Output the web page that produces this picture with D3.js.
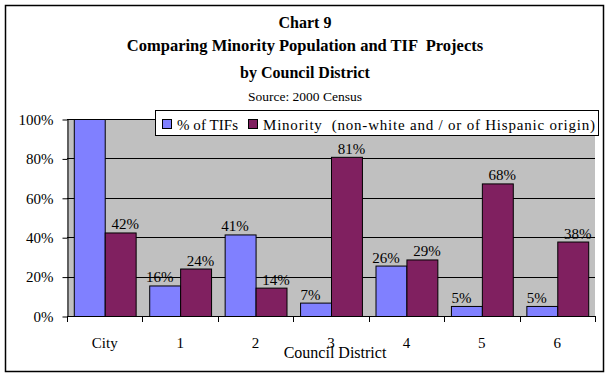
<!DOCTYPE html>
<html>
<head>
<meta charset="utf-8">
<script src="https://cdn.jsdelivr.net/npm/d3@7"></script>
<style>
  body { margin: 0; background: #fff; }
  svg { display: block; font-family: "Liberation Serif", "Times New Roman", serif; }
  svg text { font-family: "Liberation Serif", "Times New Roman", serif; }
</style>
</head>
<body>
<svg id="chart"></svg>
<script>
let categories = ["City", "1", "2", "3", "4", "5", "6"];
let seriesNames = ["% of TIFs", "Minority  (non-white and / or of Hispanic origin)"];
let tifValues = [100, 15.5, 41.4, 6.8, 25.6, 5.1, 5.1];
let minorityValues = [42.4, 24.1, 14.4, 80.8, 28.7, 67.3, 37.8];
let tifLabels = ["", "16%", "41%", "7%", "26%", "5%", "5%"];
let minorityLabels = ["42%", "24%", "14%", "81%", "29%", "68%", "38%"];
let yTicks = [0, 20, 40, 60, 80, 100];
let titleLines = ["Chart 9", "Comparing Minority Population and TIF  Projects", "by Council District"];
let sourceText = "Source: 2000 Census";
let xTitle = "Council District";

let width = 610;
let height = 378;
let colors = ["#8080ff", "#802060"];

let plot = { left: 67, right: 595, top: 119, bottom: 316 };

let svg = d3.select("#chart").attr("width", width).attr("height", height);

// outer frame
svg.append("rect")
    .attr("x", 5.5).attr("y", 5.5)
    .attr("width", 598).attr("height", 366)
    .attr("fill", "#fff").attr("stroke", "#000").attr("stroke-width", 1.5);

// titles
let titleY = [28, 51, 78];
let titleSize = ["16px", "16.5px", "16px"];
titleLines.forEach((t, i) => {
    svg.append("text")
        .attr("x", 305).attr("y", titleY[i])
        .attr("text-anchor", "middle")
        .style("font-weight", "bold")
        .style("font-size", titleSize[i])
        .style("white-space", "pre")
        .text(t);
});
svg.append("text")
    .attr("x", 305).attr("y", 101)
    .attr("text-anchor", "middle")
    .style("font-size", "13.5px")
    .text(sourceText);

// scales
let x0 = d3.scaleBand()
    .domain(categories)
    .range([plot.left, plot.right]);

let gap = x0.bandwidth() * 0.18;
let x1 = d3.scaleBand()
    .domain([0, 1])
    .range([gap / 2, x0.bandwidth() - gap / 2]);

let y = d3.scaleLinear()
    .domain([0, 100])
    .range([plot.bottom, plot.top]);

// plot background
svg.append("rect")
    .attr("x", plot.left).attr("y", plot.top)
    .attr("width", plot.right - plot.left)
    .attr("height", plot.bottom - plot.top)
    .attr("fill", "#c0c0c0");

// gridlines
svg.append("g")
    .selectAll("line")
    .data(yTicks.filter(d => d > 0))
    .enter()
    .append("line")
    .attr("x1", plot.left).attr("x2", plot.right)
    .attr("y1", d => Math.round(y(d)) + 0.5)
    .attr("y2", d => Math.round(y(d)) + 0.5)
    .attr("stroke", "#000");

// bars
let rows = categories.map((c, i) => ({
    cat: c,
    vals: [tifValues[i], minorityValues[i]],
    labels: [tifLabels[i], minorityLabels[i]]
}));

let groups = svg.append("g")
    .selectAll("g")
    .data(rows)
    .enter()
    .append("g")
    .attr("transform", d => "translate(" + x0(d.cat) + ",0)");

groups.selectAll("rect")
    .data(d => d.vals.map((v, k) => ({ k: k, v: v })))
    .enter()
    .append("rect")
    .attr("x", d => x1(d.k) + 0.5)
    .attr("y", d => y(d.v) + 0.5)
    .attr("width", x1.bandwidth())
    .attr("height", d => y(0) - y(d.v))
    .attr("fill", d => colors[d.k])
    .attr("stroke", "#000")
    .attr("stroke-width", 1);

// data labels
let labelShift = [-5, 5];
groups.selectAll("text")
    .data(d => d.vals.map((v, k) => ({ k: k, v: v, label: d.labels[k] })))
    .enter()
    .append("text")
    .attr("x", d => x1(d.k) + x1.bandwidth() / 2 + labelShift[d.k])
    .attr("y", d => y(d.v) - 3)
    .attr("text-anchor", "middle")
    .style("font-size", "15px")
    .text(d => d.label);

// y axis
let yAxis = d3.axisLeft(y)
    .tickValues(yTicks)
    .tickSize(5)
    .tickSizeOuter(0)
    .tickPadding(9)
    .tickFormat(d => d + "%");

let yg = svg.append("g")
    .attr("transform", "translate(" + (plot.left + 0.5) + ",0.5)")
    .call(yAxis)
    .attr("font-family", null)
    .attr("font-size", null);
yg.selectAll("text").style("font-size", "15px").attr("fill", "#000");
yg.selectAll("line, path").attr("stroke", "#000");

// x axis line and boundary ticks
let xg = svg.append("g");
xg.append("line")
    .attr("x1", plot.left).attr("x2", plot.right)
    .attr("y1", plot.bottom + 0.5).attr("y2", plot.bottom + 0.5)
    .attr("stroke", "#000");
let bounds = categories.map(c => x0(c)).concat([plot.right]);
xg.selectAll(".xt")
    .data(bounds)
    .enter()
    .append("line")
    .attr("class", "xt")
    .attr("x1", d => Math.round(d) + 0.5).attr("x2", d => Math.round(d) + 0.5)
    .attr("y1", plot.bottom).attr("y2", plot.bottom + 6)
    .attr("stroke", "#000");

let xAxis = d3.axisBottom(x0).tickSize(0).tickPadding(21);
let xl = svg.append("g")
    .attr("transform", "translate(0," + plot.bottom + ")")
    .call(xAxis)
    .attr("font-family", null)
    .attr("font-size", null);
xl.select(".domain").remove();
xl.selectAll("text").style("font-size", "15px").attr("fill", "#000");

// x title
svg.append("text")
    .attr("x", 335).attr("y", 358)
    .attr("text-anchor", "middle")
    .style("font-size", "16px")
    .text(xTitle);

// legend
let legend = svg.append("g");
legend.append("rect")
    .attr("x", 155.5).attr("y", 110.5)
    .attr("width", 443).attr("height", 25)
    .attr("fill", "#fff").attr("stroke", "#000");

let legItemX = [162, 248];
let legTextLen = [61, 332];
seriesNames.forEach((name, i) => {
    let lx = legItemX[i];
    legend.append("rect")
        .attr("x", lx + 0.5).attr("y", 119.5)
        .attr("width", 9).attr("height", 9)
        .attr("fill", colors[i]).attr("stroke", "#000");
    legend.append("text")
        .attr("x", lx + 15).attr("y", 130)
        .attr("textLength", legTextLen[i])
        .attr("lengthAdjust", "spacing")
        .style("font-size", "15px")
        .style("white-space", "pre")
        .text(name);
});
</script>
</body>
</html>
